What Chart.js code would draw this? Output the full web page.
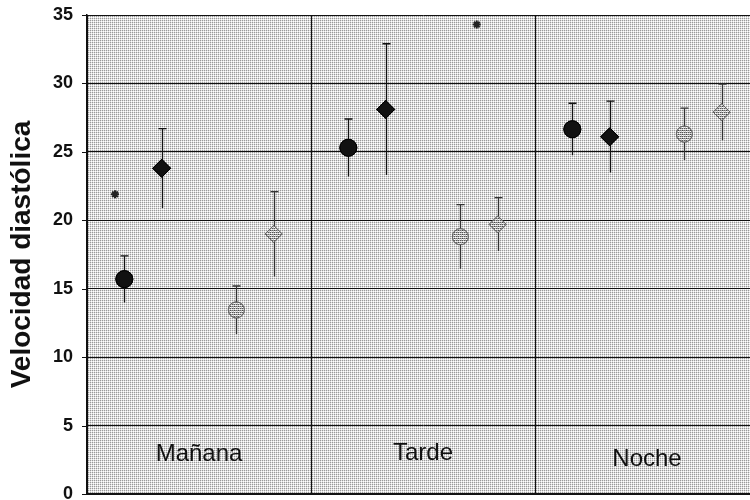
<!DOCTYPE html>
<html><head><meta charset="utf-8">
<script src="https://cdn.jsdelivr.net/npm/chart.js@4/dist/chart.umd.min.js"></script>
<style>
html,body{margin:0;padding:0;background:#fff;overflow:hidden;width:750px;height:500px}
#wrap{position:relative;width:760px;height:500px}
</style>
</head><body><div id="wrap"><canvas id="c" width="760" height="500"></canvas></div>
<script>
// ---- data ----
const categories = ['Mañana', 'Tarde', 'Noche'];
const yTicks = [0, 5, 10, 15, 20, 25, 30, 35];
const blackCircle    = [15.7, 25.3, 26.65];
const blackCircleErr = [1.7, 2.1, 1.9];
const blackDiamond    = [23.8, 28.1, 26.1];
const blackDiamondErr = [2.9, 4.8, 2.6];
const grayCircle    = [13.45, 18.8, 26.3];
const grayCircleErr = [1.75, 2.35, 1.9];
const grayDiamond    = [19.0, 19.7, 27.9];
const grayDiamondErr = [3.1, 1.95, 2.05];
const starCategory = [0, 1];
const starValues = [21.9, 34.3];

// ---- layout / style ----
const seriesOffsets = [1/6, 1/3, 2/3, 5/6];
const starOffsets = [0.125, 0.74];
const labelValueY = [2.9, 3.0, 2.5];
const FONT = "'Liberation Sans', Arial, Helvetica, sans-serif";

function makePattern(cells, size) {
  const c = document.createElement('canvas');
  c.width = size; c.height = size;
  const g = c.getContext('2d');
  cells.forEach((row, y) => row.forEach((col, x) => { g.fillStyle = col; g.fillRect(x, y, 1, 1); }));
  return g.createPattern(c, 'repeat');
}
const bgPattern = makePattern([['#9a9a9a', '#dedede'], ['#dedede', '#ffffff']], 2);
const markerPattern = makePattern([
  ['#555', '#999', '#555', '#bbb'],
  ['#ddd', '#eee', '#ccc', '#fff'],
  ['#666', '#aaa', '#444', '#999'],
  ['#eee', '#ccc', '#fff', '#ddd']
], 4);

function pts(values, off) { return values.map((v, i) => ({ x: i + off, y: v })); }

const datasets = [
  { data: pts(blackCircle, seriesOffsets[0]), errors: blackCircleErr, errColor: '#111',
    pointStyle: 'circle', pointRadius: 8.5, backgroundColor: '#111', borderColor: '#000', borderWidth: 1 },
  { data: pts(blackDiamond, seriesOffsets[1]), errors: blackDiamondErr, errColor: '#111',
    pointStyle: 'rectRot', pointRadius: 9, backgroundColor: '#111', borderColor: '#000', borderWidth: 1 },
  { data: pts(grayCircle, seriesOffsets[2]), errors: grayCircleErr, errColor: '#333',
    pointStyle: 'circle', pointRadius: 8, backgroundColor: markerPattern, borderColor: '#666', borderWidth: 1 },
  { data: pts(grayDiamond, seriesOffsets[3]), errors: grayDiamondErr, errColor: '#333',
    pointStyle: 'rectRot', pointRadius: 8.5, backgroundColor: markerPattern, borderColor: '#666', borderWidth: 1 },
  { data: starValues.map((v, i) => ({ x: starCategory[i] + starOffsets[i], y: v })),
    pointStyle: 'star', pointRadius: 4, backgroundColor: '#222', borderColor: '#222', borderWidth: 2 }
];

const bgPlugin = {
  id: 'bg',
  beforeDraw(chart) {
    const a = chart.chartArea, ctx = chart.ctx;
    ctx.save(); ctx.fillStyle = bgPattern;
    ctx.fillRect(a.left, a.top, a.right - a.left, a.bottom - a.top);
    ctx.restore();
  }
};
const errPlugin = {
  id: 'err',
  afterDatasetsDraw(chart) {
    const ctx = chart.ctx, ys = chart.scales.y;
    chart.data.datasets.forEach((ds, di) => {
      if (!ds.errors) return;
      const meta = chart.getDatasetMeta(di);
      ds.data.forEach((p, j) => {
        const el = meta.data[j];
        const x = Math.round(el.x) + 0.5;
        const top = ys.getPixelForValue(p.y + ds.errors[j]);
        const bot = ys.getPixelForValue(p.y - ds.errors[j]);
        ctx.save();
        ctx.strokeStyle = ds.errColor; ctx.lineWidth = 1.3;
        ctx.beginPath();
        ctx.moveTo(x, top); ctx.lineTo(x, bot);
        ctx.moveTo(x - 4, top); ctx.lineTo(x + 4, top);
        ctx.stroke();
        ctx.restore();
      });
    });
    chart.data.datasets.forEach((ds, di) => {
      if (!ds.errors) return;
      chart.getDatasetMeta(di).data.forEach(el => el.draw(ctx, chart.chartArea));
    });
  }
};
const labelPlugin = {
  id: 'labels',
  afterDraw(chart) {
    const ctx = chart.ctx, xs = chart.scales.x, ys = chart.scales.y;
    ctx.save();
    ctx.strokeStyle = '#111'; ctx.lineWidth = 1;
    ctx.beginPath();
    yTicks.forEach(v => {
      const y = Math.round(ys.getPixelForValue(v)) + 0.5;
      ctx.moveTo(ys.right - 5, y); ctx.lineTo(ys.right, y);
    });
    ctx.stroke();
    ctx.font = '24px ' + FONT; ctx.fillStyle = '#111';
    ctx.textAlign = 'center'; ctx.textBaseline = 'middle';
    categories.forEach((c, i) => {
      ctx.fillText(c, xs.getPixelForValue(i + 0.5), ys.getPixelForValue(labelValueY[i]));
    });
    ctx.restore();
  }
};

new Chart(document.getElementById('c'), {
  type: 'scatter',
  data: { datasets },
  plugins: [bgPlugin, errPlugin, labelPlugin],
  options: {
    responsive: false,
    animation: false,
    layout: { autoPadding: false, padding: { left: 0, right: 1, top: 15, bottom: 6 } },
    plugins: { legend: { display: false }, tooltip: { enabled: false } },
    scales: {
      x: {
        type: 'linear', min: 0, max: categories.length,
        afterBuildTicks: s => { s.ticks = categories.map((c, i) => ({ value: i })).concat([{ value: categories.length }]); },
        ticks: { display: false },
        grid: { color: '#111', lineWidth: 1, drawTicks: false },
        border: { display: true, color: '#111', width: 2 },
        afterFit: s => { s.height = 0; }
      },
      y: {
        min: 0, max: 35,
        afterBuildTicks: s => { s.ticks = yTicks.map(v => ({ value: v })); },
        ticks: { color: '#111', font: { family: FONT, size: 18, weight: 'bold', lineHeight: 0.5 }, padding: 0 },
        grid: { color: '#111', lineWidth: 1, tickLength: 14, tickColor: 'rgba(0,0,0,0)' },
        border: { display: true, color: '#111', width: 1.5 },
        title: { display: true, text: 'Velocidad diastólica', color: '#111',
                 font: { family: FONT, size: 28, weight: 'bold' }, padding: { top: 5, bottom: 0 } },
        afterFit: s => { s.width = 87; }
      }
    }
  }
});
</script>
</body></html>
